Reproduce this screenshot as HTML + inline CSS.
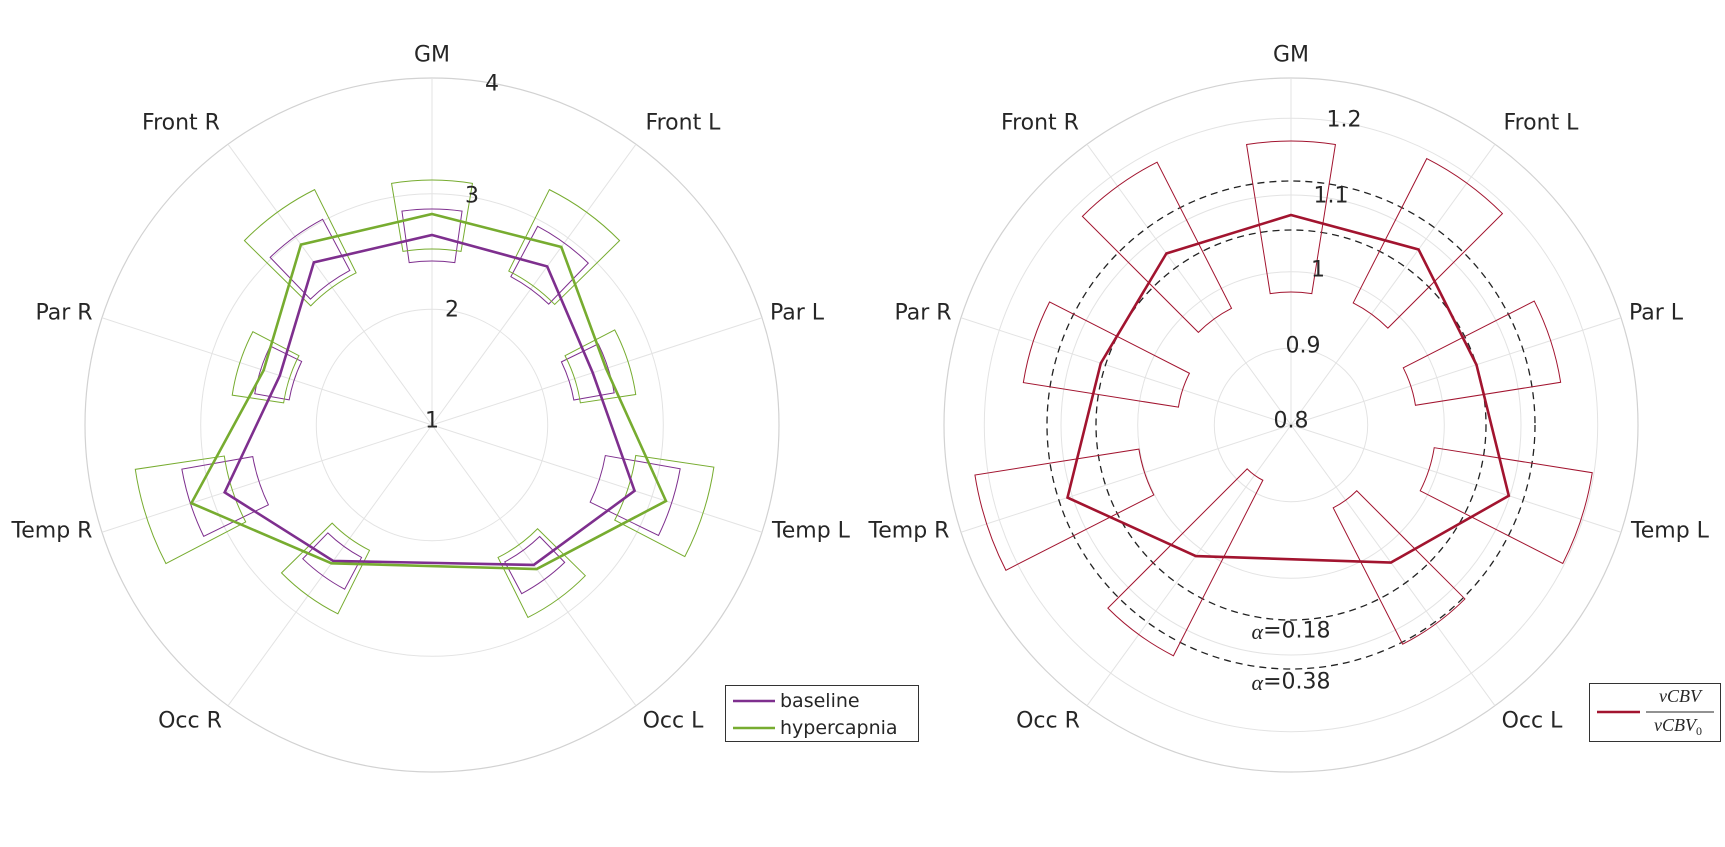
<!DOCTYPE html>
<html><head><meta charset="utf-8">
<style>
html,body{margin:0;padding:0;background:#fff;}
svg{display:block;}
text{font-family:"DejaVu Sans","Liberation Sans",sans-serif;fill:#262626;}
.lab{font-size:22px;text-anchor:middle;dominant-baseline:central;}
.tick{font-size:22px;text-anchor:middle;dominant-baseline:central;}
.leg{font-size:19px;dominant-baseline:central;}
</style></head>
<body>
<svg id="s" width="1725" height="847" viewBox="0 0 1725 847" xmlns="http://www.w3.org/2000/svg">
<g id="grid"></g>
<g id="data"></g>
<!-- left labels -->
<text class="lab" x="432" y="55">GM</text>
<text class="lab" x="181" y="123">Front R</text>
<text class="lab" x="683" y="123">Front L</text>
<text class="lab" x="64" y="313">Par R</text>
<text class="lab" x="797" y="313">Par L</text>
<text class="lab" x="52" y="531">Temp R</text>
<text class="lab" x="811" y="531">Temp L</text>
<text class="lab" x="190" y="721">Occ R</text>
<text class="lab" x="673" y="721">Occ L</text>
<text class="tick" x="492" y="84">4</text>
<text class="tick" x="472" y="196">3</text>
<text class="tick" x="452" y="310">2</text>
<text class="tick" x="432" y="421">1</text>
<!-- right labels -->
<text class="lab" x="1291" y="55">GM</text>
<text class="lab" x="1040" y="123">Front R</text>
<text class="lab" x="1541" y="123">Front L</text>
<text class="lab" x="923" y="313">Par R</text>
<text class="lab" x="1656" y="313">Par L</text>
<text class="lab" x="909" y="531">Temp R</text>
<text class="lab" x="1670" y="531">Temp L</text>
<text class="lab" x="1048" y="721">Occ R</text>
<text class="lab" x="1532" y="721">Occ L</text>
<text class="tick" x="1344" y="120">1.2</text>
<text class="tick" x="1331" y="196">1.1</text>
<text class="tick" x="1318" y="270">1</text>
<text class="tick" x="1303" y="346">0.9</text>
<text class="tick" x="1291" y="421">0.8</text>
<text class="tick" x="1291" y="631"><tspan font-family="Liberation Serif,serif" font-style="italic">α</tspan>=0.18</text>
<text class="tick" x="1291" y="682"><tspan font-family="Liberation Serif,serif" font-style="italic">α</tspan>=0.38</text>
<!-- legends -->
<rect x="725.5" y="685.5" width="193" height="56" fill="#fff" stroke="#333" stroke-width="1"/>
<line x1="733" y1="701" x2="775" y2="701" stroke="#7E2F8E" stroke-width="2.5"/>
<line x1="733" y1="728" x2="775" y2="728" stroke="#77AC30" stroke-width="2.5"/>
<text class="leg" x="780" y="701">baseline</text>
<text class="leg" x="780" y="728">hypercapnia</text>
<rect x="1589.5" y="683.5" width="131" height="58" fill="#fff" stroke="#333" stroke-width="1"/>
<line x1="1597" y1="712" x2="1640" y2="712" stroke="#A2142F" stroke-width="2.5"/>
<text x="1680" y="702" style="font-family:'Liberation Serif',serif;font-style:italic;font-size:18px;text-anchor:middle;">vCBV</text>
<line x1="1646" y1="712" x2="1714" y2="712" stroke="#262626" stroke-width="1"/>
<text x="1678" y="731" style="font-family:'Liberation Serif',serif;font-style:italic;font-size:18px;text-anchor:middle;">vCBV<tspan font-size="12" dy="4" font-style="normal">0</tspan></text>
</svg>
<script>
(function(){
var NS="http://www.w3.org/2000/svg";
var grid=document.getElementById("grid"),data=document.getElementById("data");
function el(p,tag,a){var e=document.createElementNS(NS,tag);for(var k in a)e.setAttribute(k,a[k]);p.appendChild(e);return e;}
function P(cx,cy,r,deg){var t=deg*Math.PI/180;return [cx+r*Math.sin(t),cy-r*Math.cos(t)];}
var ang=[0,36,72,108,144,216,252,288,324];
function axes(cx,cy,rings,R){
  rings.forEach(function(r){el(grid,"circle",{cx:cx,cy:cy,r:r,fill:"none",stroke:"#e3e3e3","stroke-width":1});});
  el(grid,"circle",{cx:cx,cy:cy,r:R,fill:"none",stroke:"#d2d2d2","stroke-width":1.2});
  ang.forEach(function(a){var p=P(cx,cy,R,a);el(grid,"line",{x1:cx,y1:cy,x2:p[0],y2:p[1],stroke:"#e3e3e3","stroke-width":1});});
}
function sector(cx,cy,r1,r2,a,w,col){
  var a1=P(cx,cy,r1,a-w),a2=P(cx,cy,r2,a-w),b2=P(cx,cy,r2,a+w),b1=P(cx,cy,r1,a+w);
  var d="M"+a1+" L"+a2+" A"+r2+" "+r2+" 0 0 1 "+b2+" L"+b1+" A"+r1+" "+r1+" 0 0 0 "+a1+" Z";
  el(data,"path",{d:d,fill:"none",stroke:col,"stroke-width":1});
}
function poly(cx,cy,rs,col){
  var pts=rs.map(function(r,i){return P(cx,cy,r,ang[i]).join(",");}).join(" ");
  el(data,"polygon",{points:pts,fill:"none",stroke:col,"stroke-width":2.6,"stroke-linejoin":"miter"});
}
var R=347;
axes(432,425,[115.7,231.3],R);
axes(1291,425,[76.7,153.3,230,306.7],R);
el(grid,"circle",{cx:1291,cy:425,r:195,fill:"none",stroke:"#222","stroke-width":1.3,"stroke-dasharray":"7,5"});
el(grid,"circle",{cx:1291,cy:425,r:244,fill:"none",stroke:"#222","stroke-width":1.3,"stroke-dasharray":"7,5"});
var pb=[[164,216],[168,225],[144,185],[176,252],[155,191],[150,186],[182,254],[145,180],[175,233]];
var gb=[[176,245],[172,263],[150,206],[206,285],[148,215],[140,211],[210,300],[150,202],[170,263]];
var rb=[[133,284],[137,299],[126,273],[145,305],[93,246],[62,259],[154,320],[114,271],[131,295]];
pb.forEach(function(b,i){sector(432,425,b[0],b[1],ang[i],8,"#7E2F8E");});
gb.forEach(function(b,i){sector(432,425,b[0],b[1],ang[i],9.5,"#77AC30");});
rb.forEach(function(b,i){sector(1291,425,b[0],b[1],ang[i],9,"#A2142F");});
poly(432,425,[190,196,169,213,173,168,218,160,201],"#7E2F8E");
poly(432,425,[211,220,183,246,178,171,253,177,223],"#77AC30");
poly(1291,425,[210,217,195,229,170,162,235,200,212],"#A2142F");
})();
</script>
</body></html>
